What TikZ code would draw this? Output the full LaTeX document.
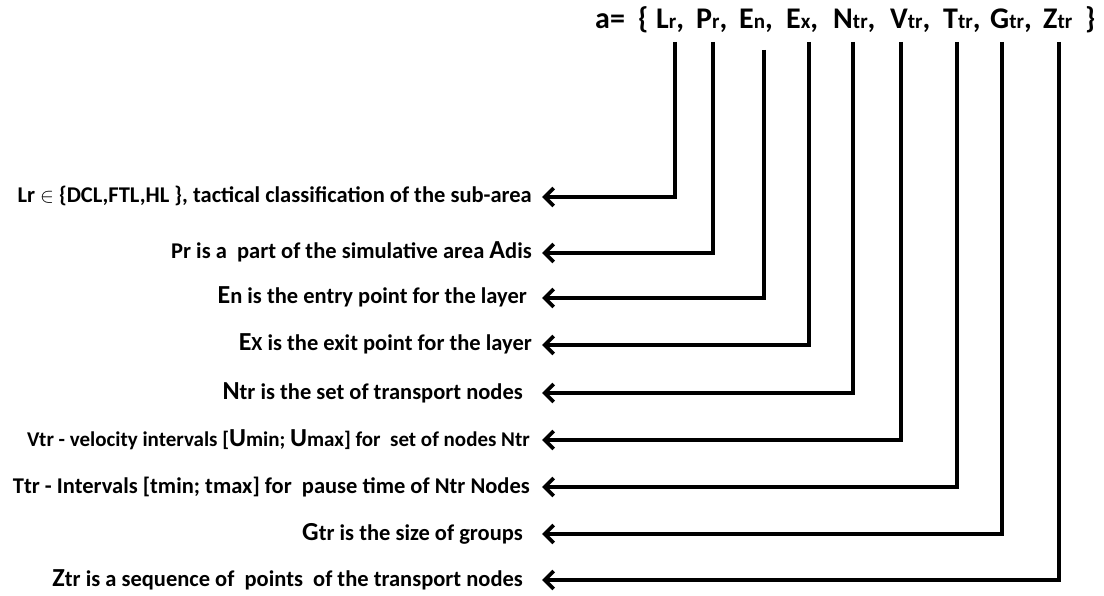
\documentclass[tikz,border=0pt]{standalone}
\usepackage{fontspec}
\setmainfont{Carlito}
\usetikzlibrary{arrows.meta}
\newcommand{\hsub}[1]{{\fontsize{21}{21}\selectfont #1}}
\newcommand{\biglet}[1]{{\fontsize{26}{26}\selectfont #1}}
\tikzset{
  conn/.style={line width=3.8pt, line join=miter, -{Straight Barb[length=9pt,width=18pt]}},
  lbl/.style={anchor=base east, inner xsep=10pt, inner ysep=0pt, font=\fontsize{22.5}{22.5}\selectfont\bfseries},
  head/.style={anchor=base west, inner sep=0pt, font=\fontsize{30}{30}\selectfont\bfseries}
}
\begin{document}
\begin{tikzpicture}[x=1pt,y=-1pt]
\useasboundingbox[fill=white] (0,0) rectangle (1104,596);
% header
\node[head] (h0) at (595,29) {a=};
\node[head] (h1) at (638,29) {\{};
\node[head] (h2) at (656,29) {L\hsub{r},};
\node[head] (h3) at (696,29) {P\hsub{r},};
\node[head] (h4) at (739,29) {E\hsub{n},};
\node[head] (h5) at (786,29) {E\hsub{x},};
\node[head] (h6) at (833,29) {N\hsub{tr},};
\node[head] (h7) at (890,29) {V\hsub{tr},};
\node[head] (h8) at (943,29) {T\hsub{tr},};
\node[head] (h9) at (990,29) {G\hsub{tr},};
\node[head] (h10) at (1043,29) {Z\hsub{tr}};
\node[head] (h11) at (1085,29) {\}};
% top ends of the connectors
\coordinate (tL) at (675,42);
\coordinate (tP) at (713,42);
\coordinate (tEn) at (764,50);
\coordinate (tEx) at (809,42);
\coordinate (tN) at (853,42);
\coordinate (tV) at (901,42);
\coordinate (tT) at (957,42);
\coordinate (tG) at (1002,42);
\coordinate (tZ) at (1059,42);
% labels
\node[lbl] (lL) at (542,203) {Lr $\in$ \{DCL,FTL,HL \}, tactical classification of the sub-area};
\node[lbl] (lP) at (542,259) {Pr is a\ \ part of the simulative area \biglet{A}dis};
\node[lbl,inner xsep=15pt] (lEn) at (542,304) {\biglet{E}n is the entry point for the layer};
\node[lbl] (lEx) at (542,351) {\biglet{E}{\fontsize{20}{20}\selectfont X} is the exit point for the layer};
\node[lbl,inner xsep=19pt] (lN) at (542,399) {\biglet{N}tr is the set of transport nodes};
\node[lbl,inner xsep=12pt,font=\fontsize{21}{21}\selectfont\bfseries] (lV) at (542,446) {Vtr\ - velocity intervals [\biglet{U}min; \biglet{U}max] for\ \ set of nodes Ntr};
\node[lbl,inner xsep=12pt] (lT) at (542,493) {Ttr - Intervals [tmin; tmax] for\ \ pause time of Ntr Nodes};
\node[lbl,inner xsep=19pt] (lG) at (542,540) {\biglet{G}tr is the\ size\ of\ groups};
\node[lbl,inner xsep=19pt] (lZ) at (542,586) {\biglet{Z}tr is a sequence of\ \ points\ \ of the transport nodes};
% connectors
\draw[conn] (tL) |- ([yshift=6pt]lL.base east);
\draw[conn] (tP) |- ([yshift=6pt]lP.base east);
\draw[conn] (tEn) |- ([yshift=6pt]lEn.base east);
\draw[conn] (tEx) |- ([yshift=6pt]lEx.base east);
\draw[conn] (tN) |- ([yshift=6pt]lN.base east);
\draw[conn] (tV) |- ([yshift=6pt]lV.base east);
\draw[conn] (tT) |- ([yshift=6pt]lT.base east);
\draw[conn] (tG) |- ([yshift=6pt]lG.base east);
\draw[conn] (tZ) |- ([yshift=6pt]lZ.base east);
\end{tikzpicture}
\end{document}
